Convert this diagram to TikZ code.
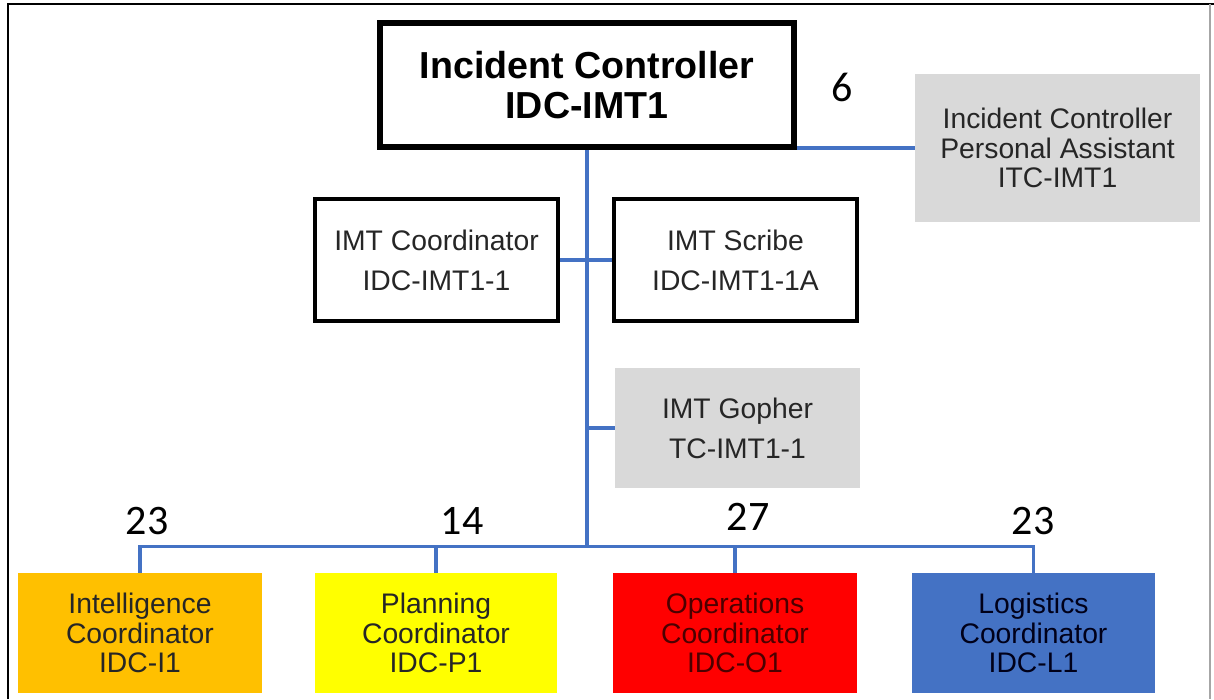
\documentclass[tikz,border=0pt]{standalone}
\usepackage{fontspec}
\setmainfont{Liberation Sans}
\newfontfamily\numfont{Carlito}
\definecolor{linkblue}{HTML}{4472C4}
\definecolor{boxgrey}{HTML}{D9D9D9}
\definecolor{intelorange}{HTML}{FFC000}
\definecolor{planyellow}{HTML}{FFFF00}
\definecolor{opsred}{HTML}{FF0000}
\definecolor{logiblue}{HTML}{4472C4}
\definecolor{txt}{HTML}{262626}
\begin{document}
\begin{tikzpicture}[x=1pt,y=-1pt,
  conn/.style={draw=linkblue,line width=3.2pt},
  basebox/.style={rectangle,inner sep=0pt,align=center,text=txt,
    font=\fontsize{28.3}{40}\selectfont},
  headbox/.style={basebox,draw=black,line width=6pt,minimum width=414pt,minimum height=124pt,
    font=\bfseries\fontsize{37.6}{40}\selectfont,text=black},
  outlinebox/.style={basebox,draw=black,line width=3.6pt,minimum width=243pt,minimum height=122pt},
  greybox/.style={basebox,fill=boxgrey,minimum width=245pt,minimum height=120pt},
  sectionbox/.style={basebox,minimum width=244pt,minimum height=120pt,
    font=\fontsize{28.3}{29.5}\selectfont},
  count/.style={inner sep=0pt,font=\numfont\fontsize{42}{42}\selectfont,text=black}]
\useasboundingbox (0,0) rectangle (1214,699);
\fill[white] (0,0) rectangle (1214,699);
% outer frame
\draw[black,line width=1.8pt] (8.3,699) -- (8.3,4.3) -- (1214,4.3);
\draw[black!35,line width=1.2pt] (1210,4.3) -- (1210,699);

% command staff
\node[headbox] (ic) at (587,85) {Incident Controller\\IDC-IMT1};
\node[greybox,minimum width=285pt,minimum height=148pt,
  font=\fontsize{28.3}{29.5}\selectfont] (pa) at (1057.5,148)
  {Incident Controller\\Personal Assistant\\ITC-IMT1};
\node[outlinebox] (coord) at (436.5,260) {IMT Coordinator\\IDC-IMT1-1};
\node[outlinebox] (scribe) at (735.5,260) {IMT Scribe\\IDC-IMT1-1A};
\node[greybox] (gopher) at (737.5,428) {IMT Gopher\\TC-IMT1-1};

% functional sections
\node[sectionbox,fill=intelorange] (intel) at (140,633) {Intelligence\\Coordinator\\IDC-I1};
\node[sectionbox,fill=planyellow,minimum width=242pt] (plan) at (436,633) {Planning\\Coordinator\\IDC-P1};
\node[sectionbox,fill=opsred,text=red!30!black] (ops) at (735,633) {Operations\\Coordinator\\IDC-O1};
\node[sectionbox,fill=logiblue,minimum width=243pt,text=black!90!blue] (logi) at (1033.5,633) {Logistics\\Coordinator\\IDC-L1};

% staff counts
\node[count] (n6) at (842,87) {6};
\node[count] (n23a) at (147,521) {23};
\node[count] (n14) at (462,521) {14};
\node[count] (n27) at (748,517) {27};
\node[count] (n23b) at (1033,521) {23};

% connectors
\coordinate (bus) at (587,546.5);
\draw[conn] (ic.south) -- (bus);
\draw[conn] (coord.east) -- (scribe.west);
\draw[conn] (gopher.west) -- (gopher.west -| ic.south);
\draw[conn] (ic.east |- pa.west) -- (pa.west);
\draw[conn] (intel.north) -- (intel.north |- bus) -- (logi.north |- bus) -- (logi.north);
\draw[conn] (plan.north) -- (plan.north |- bus);
\draw[conn] (ops.north) -- (ops.north |- bus);
\end{tikzpicture}
\end{document}
